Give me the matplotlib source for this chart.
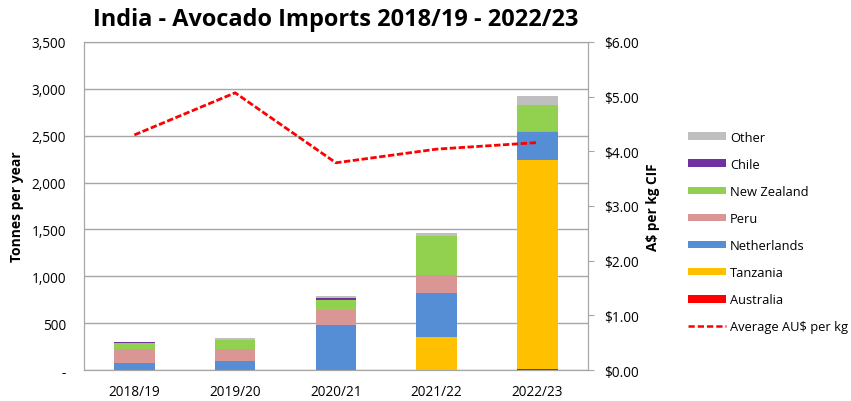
import matplotlib.pyplot as plt
import numpy as np
from matplotlib.patches import Patch
from matplotlib.lines import Line2D
from matplotlib.ticker import FuncFormatter

plt.rcParams['font.family'] = ['Open Sans', 'DejaVu Sans']

years = ['2018/19', '2019/20', '2020/21', '2021/22', '2022/23']
australia = [0, 0, 0, 0, 6]
tanzania = [0, 0, 0, 355, 2232]
netherlands = [78, 99, 484, 463, 300]
peru = [149, 128, 156, 196, 12]
new_zealand = [64, 96, 110, 419, 281]
chile = [3, 2, 15, 0, 0]
other = [8, 16, 25, 29, 96]
avg_price = [4.30, 5.07, 3.79, 4.04, 4.16]

series = [('Australia', australia, '#FF0000'),
          ('Tanzania', tanzania, '#FFC000'),
          ('Netherlands', netherlands, '#558ED5'),
          ('Peru', peru, '#DA9694'),
          ('New Zealand', new_zealand, '#92D050'),
          ('Chile', chile, '#7030A0'),
          ('Other', other, '#BFBFBF')]

fig = plt.figure(figsize=(8.51, 4.02), dpi=100)
ax = fig.add_axes([0.0987, 0.0771, 0.592, 0.816])
x = np.arange(len(years))
bottom = np.zeros(len(years))
for name, vals, col in series:
    ax.bar(x, vals, 0.4, bottom=bottom, color=col, zorder=3)
    bottom += np.array(vals)

ax.set_ylim(0, 3500)
ax.set_xlim(-0.5, 4.5)
ax.set_yticks(np.arange(0, 3501, 500))
ax.yaxis.set_major_formatter(FuncFormatter(lambda v, p: '-' if v == 0 else f'{v:,.0f}'))
ax.set_xticks(x)
ax.set_xticklabels(years)
ax.grid(axis='y', color='#A6A6A6', linewidth=1, zorder=0)
for s in ax.spines.values():
    s.set_color('#A6A6A6')
ax.tick_params(axis='y', labelsize=9.8, length=0, pad=13)
ax.tick_params(axis='x', labelsize=9.8, length=0, pad=10)
ax.set_ylabel('Tonnes per year', fontsize=10, fontweight='bold')
ax.yaxis.set_label_coords(-0.119, 0.5)

ax2 = ax.twinx()
ax2.plot(x, avg_price, color='#FF0000', linestyle=(0, (2.3, 0.9)), linewidth=2, zorder=4)
ax2.set_ylim(0, 6)
ax2.set_yticks(np.arange(0, 6.01, 1))
ax2.yaxis.set_major_formatter(FuncFormatter(lambda v, p: f'${v:.2f}'))
ax2.tick_params(axis='y', labelsize=9.8, length=4, color='#A6A6A6', pad=8)
for s in ax2.spines.values():
    s.set_color('#A6A6A6')
ax2.set_ylabel('A$ per kg CIF', fontsize=9.8, fontweight='bold')
ax2.yaxis.set_label_coords(1.115, 0.5)

ax.set_title('India - Avocado Imports 2018/19 - 2022/23', fontsize=16.9, fontweight='bold', pad=12)

handles = [Patch(facecolor=col, label=name) for name, vals, col in reversed(series)]
handles.append(Line2D([0], [0], color='#FF0000', linestyle=(0, (2.5, 1.2)), linewidth=1.8,
                      label='Average AU$ per kg'))
fig.legend(handles=handles, loc='upper left', bbox_to_anchor=(0.795, 0.701),
           frameon=False, fontsize=9.3, handlelength=2.94, handleheight=0.54,
           labelspacing=1.09, handletextpad=0.3)

fig.savefig('out.png', dpi=100)
